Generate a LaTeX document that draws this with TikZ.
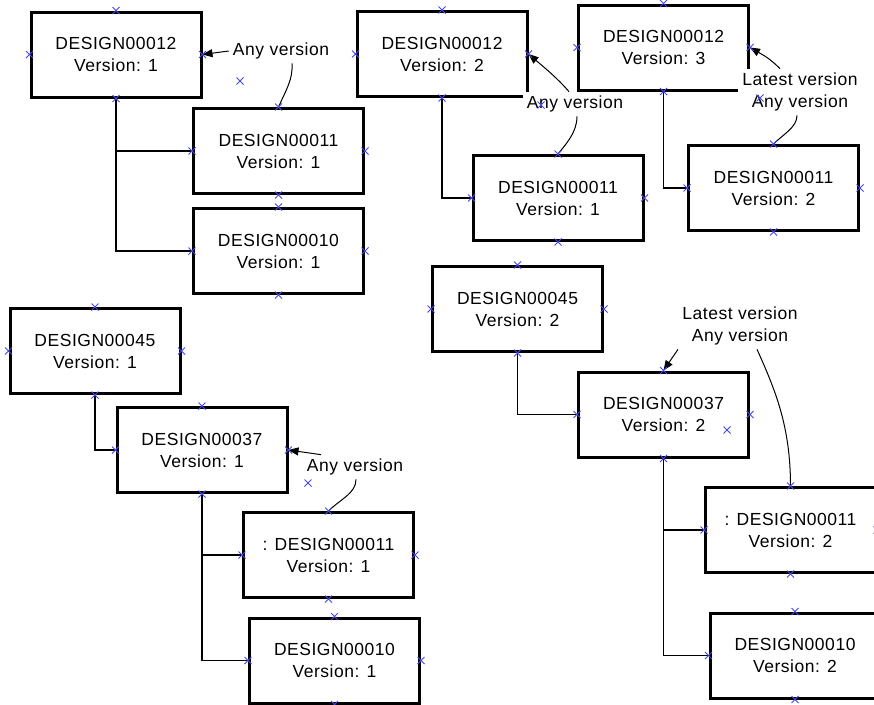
\documentclass[tikz,border=0pt]{standalone}
\usepackage{fontspec}
\setmainfont[LetterSpace=3]{Liberation Sans}
\usetikzlibrary{arrows.meta}
\definecolor{xmcol}{RGB}{70,70,240}
\newcommand\xmk[1]{\draw[xmcol, line width=0.9pt] (#1) ++(-3.5,-3.5) -- ++(7,7) (#1) ++(-3.5,3.5) -- ++(7,-7);}
\begin{document}
\begin{tikzpicture}[x=1pt,y=-1pt,
  box/.style={draw, line width=3pt, fill=white, minimum width=170pt, minimum height=85pt, inner sep=0pt, align=center, font=\fontsize{17.5}{22}\selectfont},
  lbl/.style={fill=white, inner sep=4pt, align=center, font=\fontsize{17.5}{22}\selectfont},
  conn/.style={line width=1.3pt},
  note/.style={line width=1pt},
  arr/.style={note, -{Triangle[length=10pt,width=8pt]}},
  ]
\useasboundingbox (0,0) rectangle (874,704);
% boxes
\node[box] (A1) at (116,54.5) {DESIGN00012\\Version: 1};
\node[box] (A2) at (278.5,151) {DESIGN00011\\Version: 1};
\node[box] (A3) at (278.5,251) {DESIGN00010\\Version: 1};
\node[box] (B1) at (442,54) {DESIGN00012\\Version: 2};
\node[box] (B2) at (558,198) {DESIGN00011\\Version: 1};
\node[box] (C1) at (663.5,47.5) {DESIGN00012\\Version: 3};
\node[box] (C2) at (773.5,188) {DESIGN00011\\Version: 2};
\node[box] (D1) at (95,351) {DESIGN00045\\Version: 1};
\node[box] (D2) at (202,450) {DESIGN00037\\Version: 1};
\node[box] (D3) at (328.5,555) {: DESIGN00011\\Version: 1};
\node[box] (D4) at (334.5,660.5) {DESIGN00010\\Version: 1};
\node[box] (E1) at (517.5,309) {DESIGN00045\\Version: 2};
\node[box] (E2) at (663.5,414.5) {DESIGN00037\\Version: 2};
\node[box] (E3) at (790.5,530) {: DESIGN00011\\Version: 2};
\node[box] (E4) at (795,655.5) {DESIGN00010\\Version: 2};
% connectors
\draw[conn] (A1.south) |- (A2.west);
\draw[conn] (A1.south) |- (A3.west);
\draw[conn] (B1.south) |- (B2.west);
\draw[conn] (C1.south) |- (C2.west);
\draw[conn] (D1.south) |- (D2.west);
\draw[conn] (D2.south) |- (D3.west);
\draw[conn] (D2.south) |- (D4.west);
\draw[conn] (E1.south) |- (E2.west);
\draw[conn] (E2.south) |- (E3.west);
\draw[conn] (E2.south) |- (E4.west);
% labels
\node[lbl] (LA) at (281,51) {Any version};
\node[lbl] (LB) at (575,104) {Any version};
\node[lbl] (LC) at (800,92) {Latest version\\Any version};
\node[lbl] (LD) at (355,467) {Any version};
\node[lbl] (LE) at (740,326) {Latest version\\Any version};
% notes
\draw[arr] (LA.west) -- (A1.east);
\draw[note] ([xshift=11pt]LA.south) .. controls +(1,16) and +(8,-18) .. (A2.north);
\draw[arr] ([xshift=-6pt]LB.north) .. controls +(-12,-14) and +(14,12) .. (B1.east);
\draw[note] ([xshift=2pt]LB.south) .. controls +(0,16) and +(8,-10) .. (B2.north);
\draw[arr] ([xshift=-20pt]LC.north) .. controls +(-10,-10) and +(14,8) .. (C1.east);
\draw[note] ([xshift=-3pt]LC.south) .. controls +(0,12) and +(10,-10) .. (C2.north);
\draw[arr] ([xshift=-34pt]LD.north) -- (D2.east);
\draw[note] ([xshift=1pt]LD.south) .. controls +(0,14) and +(12,-12) .. (D3.north);
\draw[arr] ([xshift=-62pt]LE.south) -- (E2.north);
\draw[note] ([xshift=17pt]LE.south) .. controls +(18,40) and +(0,-60) .. (E3.north);
% connection marks
\foreach \b in {A1,A2,A3,B1,B2,C1,C2,D1,D2,D3,D4,E1,E2,E3,E4}
  \foreach \a in {north,south,east,west} {\xmk{\b.\a}}
\coordinate (mA) at (240,81);
\coordinate (mB) at (541,105);
\coordinate (mC) at (760,98);
\coordinate (mD) at (308,483);
\coordinate (mE) at (727,430);
\foreach \m in {mA,mB,mC,mD,mE} {\xmk{\m}}
\end{tikzpicture}
\end{document}
